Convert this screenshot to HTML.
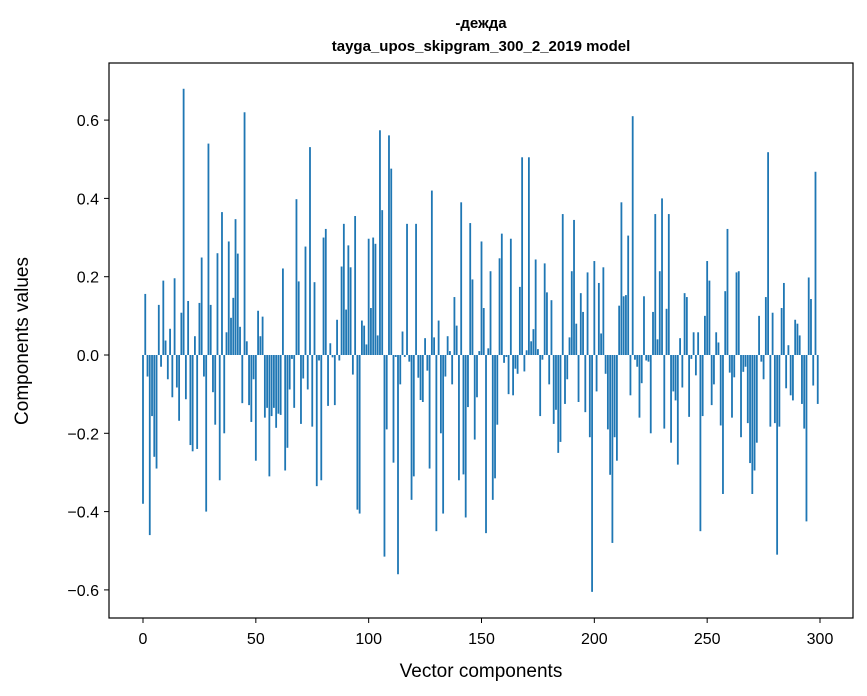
<!DOCTYPE html>
<html><head><meta charset="utf-8"><style>
body{margin:0;background:#fff;}
svg{display:block;font-family:"Liberation Sans","DejaVu Sans",sans-serif;}
</style></head><body>
<svg id="chart" width="867" height="696" xmlns="http://www.w3.org/2000/svg">
<rect width="867" height="696" fill="#fff"/>
<text x="481" y="28" text-anchor="middle" font-size="15" font-weight="bold">-дежда</text>
<text x="481" y="51" text-anchor="middle" font-size="15" font-weight="bold">tayga_upos_skipgram_300_2_2019 model</text>
<g id="bars"></g>
<g id="axes"></g>
<rect x="109" y="63" width="744" height="555" fill="none" stroke="#000" stroke-width="1.2"/>
<text x="481" y="677" text-anchor="middle" font-size="19">Vector components</text>
<text transform="translate(28,341) rotate(-90)" text-anchor="middle" font-size="19">Components values</text>
</svg>
<script>
const values = [
-0.38,0.156,-0.055,-0.46,-0.156,-0.26,-0.29,0.128,-0.03,0.19,
0.037,-0.062,0.067,-0.108,0.196,-0.083,-0.168,0.108,0.68,-0.113,
0.138,-0.23,-0.246,0.048,-0.24,0.133,0.249,-0.055,-0.40,0.54,
0.128,-0.095,-0.178,0.26,-0.32,0.365,-0.2,0.058,0.29,0.095,
0.146,0.347,0.259,0.072,-0.123,0.62,0.035,-0.128,-0.171,-0.062,
-0.27,0.113,0.048,0.098,-0.16,-0.135,-0.31,-0.156,-0.135,-0.186,
-0.15,-0.153,0.221,-0.295,-0.237,-0.088,-0.01,-0.135,0.398,0.188,
-0.176,-0.06,0.277,-0.088,0.531,-0.183,0.186,-0.335,-0.014,-0.32,
0.3,0.322,-0.13,0.03,-0.006,-0.128,0.09,-0.014,0.226,0.335,
0.116,0.28,0.224,-0.05,0.355,-0.395,-0.405,0.088,0.075,0.027,
0.297,0.12,0.30,0.284,0.05,0.574,0.37,-0.515,-0.19,0.561,
0.476,-0.275,-0.005,-0.56,-0.075,0.06,-0.005,0.335,-0.017,-0.37,
-0.31,0.335,-0.058,-0.115,-0.12,0.043,-0.04,-0.29,0.42,0.045,
-0.45,0.088,-0.20,-0.405,-0.055,0.048,0.01,-0.075,0.148,0.075,
-0.32,0.39,-0.305,-0.415,-0.133,0.337,0.193,-0.216,-0.108,0.01,
0.29,0.12,-0.455,0.017,0.214,-0.37,-0.315,-0.178,0.247,0.31,
-0.02,-0.005,-0.1,0.297,-0.103,-0.035,-0.048,0.174,0.505,-0.042,
0.012,0.505,0.035,0.066,0.244,0.015,-0.156,-0.012,0.234,0.16,
-0.075,0.14,-0.176,-0.14,-0.25,-0.222,0.36,-0.125,-0.062,0.045,
0.214,0.345,0.08,-0.12,0.158,0.11,-0.146,0.211,-0.21,-0.605,
0.24,-0.093,0.184,0.055,0.224,-0.048,-0.19,-0.306,-0.48,-0.21,
-0.27,0.126,0.39,0.15,0.153,0.305,-0.103,0.61,-0.012,-0.03,
-0.16,-0.072,0.15,-0.014,-0.017,-0.2,0.11,0.36,0.04,0.214,
0.4,-0.188,0.118,0.36,-0.224,-0.093,-0.116,-0.28,0.043,-0.083,
0.158,0.148,-0.158,-0.01,0.058,-0.052,0.058,-0.45,-0.156,0.1,
0.24,0.19,-0.128,-0.075,0.058,0.032,-0.18,-0.355,0.163,0.322,
-0.045,-0.16,-0.057,0.211,0.214,-0.21,-0.043,-0.03,-0.174,-0.276,
-0.355,-0.295,-0.224,0.1,-0.017,-0.062,0.148,0.518,-0.183,0.108,
-0.174,-0.51,-0.183,0.12,0.184,-0.085,0.025,-0.103,-0.116,0.09,
0.08,0.05,-0.125,-0.188,-0.425,0.198,0.143,-0.078,0.468,-0.125
];
const xTicks = [0,50,100,150,200,250,300];
const yTicks = [-0.6,-0.4,-0.2,0.0,0.2,0.4,0.6];
const yTickLabels = ["\u22120.6","\u22120.4","\u22120.2","0.0","0.2","0.4","0.6"];

const NS = "http://www.w3.org/2000/svg";
function xScale(v){ return 143 + v*(677/300); }
function yScale(v){ return 355 - v*391.5; }
const barsG = document.getElementById('bars');
values.forEach((v,i)=>{
  const r = document.createElementNS(NS,'rect');
  const x0 = xScale(i-0.4), x1 = xScale(i+0.4);
  const y0 = yScale(Math.max(v,0)), y1 = yScale(Math.min(v,0));
  r.setAttribute('x', x0); r.setAttribute('width', x1-x0);
  r.setAttribute('y', y0); r.setAttribute('height', Math.max(y1-y0,0.3));
  r.setAttribute('fill', '#1f77b4');
  
  
  barsG.appendChild(r);
});
const axesG = document.getElementById('axes');
xTicks.forEach(t=>{
  const x = xScale(t);
  const l = document.createElementNS(NS,'line');
  l.setAttribute('x1',x); l.setAttribute('x2',x); l.setAttribute('y1',618); l.setAttribute('y2',623);
  l.setAttribute('stroke','#000');
  
  
  axesG.appendChild(l);
  const tx = document.createElementNS(NS,'text');
  tx.setAttribute('x',x); tx.setAttribute('y',644); tx.setAttribute('text-anchor','middle'); tx.setAttribute('font-size','16');
  tx.textContent = String(t);
  
  
  axesG.appendChild(tx);
});
yTicks.forEach((t,k)=>{
  const y = yScale(t);
  const l = document.createElementNS(NS,'line');
  l.setAttribute('x1',104); l.setAttribute('x2',109); l.setAttribute('y1',y); l.setAttribute('y2',y);
  l.setAttribute('stroke','#000');
  
  
  axesG.appendChild(l);
  const tx = document.createElementNS(NS,'text');
  tx.setAttribute('x',99); tx.setAttribute('y',y+6); tx.setAttribute('text-anchor','end'); tx.setAttribute('font-size','16');
  tx.textContent = yTickLabels[k];
  
  
  axesG.appendChild(tx);
});
</script>
</body></html>
